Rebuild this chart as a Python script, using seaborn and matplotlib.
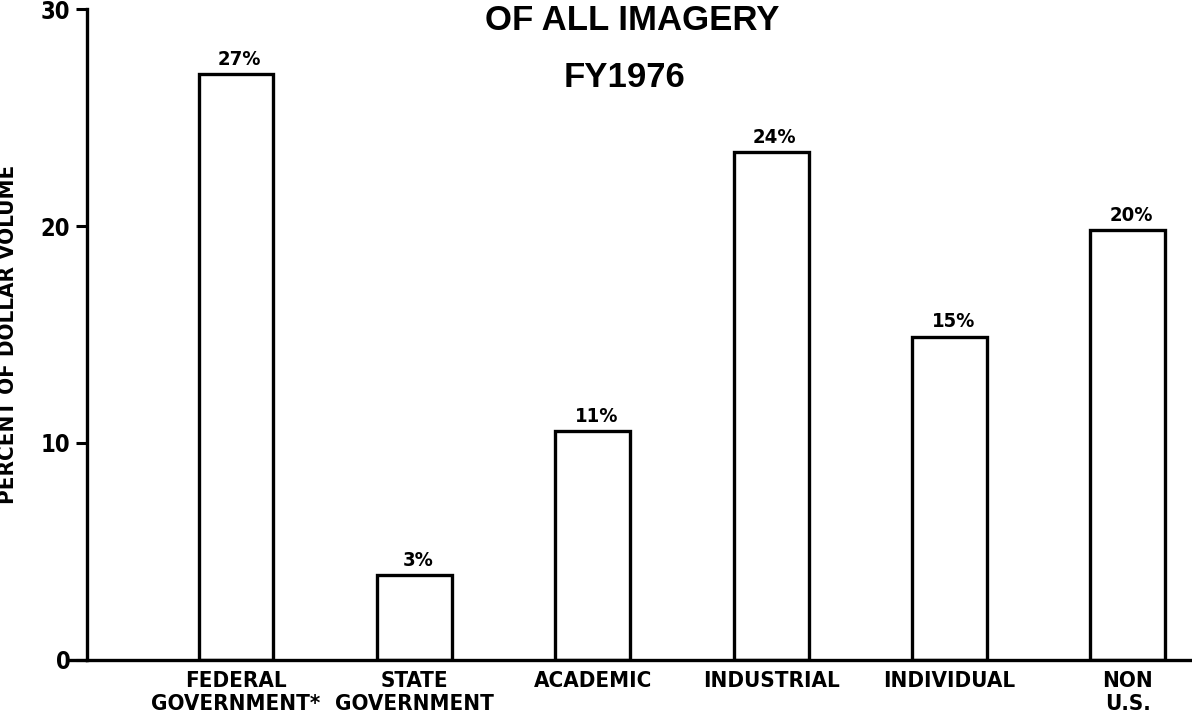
import matplotlib
matplotlib.use("Agg")
import matplotlib.pyplot as plt
from matplotlib import font_manager
import pandas as pd
import seaborn as sns

categories = ["FEDERAL\nGOVERNMENT*", "STATE\nGOVERNMENT", "ACADEMIC",
              "INDUSTRIAL", "INDIVIDUAL", "NON\nU.S."]
bar_heights = [27.0, 3.9, 10.55, 23.4, 14.9, 19.8]
bar_labels = ["27%", "3%", "11%", "24%", "15%", "20%"]
y_ticks = [0, 10, 20, 30]

sns.set_theme(style="white")

# pick a condensed face if one is around, the original lettering is narrow
narrow_names = {f.name for f in font_manager.fontManager.ttflist}
condensed = [f for f in font_manager.fontManager.ttflist
             if f.name == "DejaVu Sans" and "condensed" in str(f.stretch).lower()]
if "Liberation Sans Narrow" in narrow_names:
    narrow = {"family": ["Liberation Sans Narrow", "DejaVu Sans"]}
elif condensed:
    narrow = {"family": ["DejaVu Sans"], "stretch": "condensed"}
else:
    narrow = {"family": ["DejaVu Sans"]}

plt.rcParams["font.family"] = narrow["family"]
plt.rcParams["text.color"] = "black"
plt.rcParams["axes.labelcolor"] = "black"
plt.rcParams["xtick.color"] = "black"
plt.rcParams["ytick.color"] = "black"

df = pd.DataFrame({"category": categories, "pct": bar_heights})

fig = plt.figure(figsize=(11.92, 7.22), dpi=100)
ax = fig.add_axes([0.073, 0.0859, 0.927, 0.9016])

sns.barplot(data=df, x="category", y="pct", ax=ax, width=0.42,
            color="white", edgecolor="black", linewidth=2.4, saturation=1)

for i, (h, lab) in enumerate(zip(bar_heights, bar_labels)):
    ax.text(i + 0.02, h + 0.25, lab, ha="center", va="bottom",
            fontsize=14.5, fontweight="bold", **narrow)

ax.set_ylim(0, 30)
ax.set_xlim(-0.835, 5.359)
ax.set_yticks(y_ticks)
ax.set_yticklabels([str(t) for t in y_ticks], fontsize=17, fontweight="bold",
                   **narrow)
ax.set_xticks(range(len(categories)))
ax.set_xticklabels(categories, fontsize=16, fontweight="bold",
                   linespacing=1.2, **narrow)
ax.tick_params(axis="y", length=8, width=2.2, direction="out", pad=4, left=True)
ax.tick_params(axis="x", length=0, pad=8)
ax.set_xlabel("")
ax.set_ylabel("PERCENT OF DOLLAR VOLUME", fontsize=16, fontweight="bold",
              **narrow)
ax.yaxis.set_label_coords(-0.0624, 0.5)

for side in ["top", "right"]:
    ax.spines[side].set_visible(False)
for side in ["left", "bottom"]:
    ax.spines[side].set_linewidth(2.4)
    ax.spines[side].set_color("black")

# baseline runs a little past the y axis on the left
ax.plot([-0.95, -0.835], [0, 0], color="black", lw=2.4, clip_on=False,
        solid_capstyle="butt")

title_font = ["Liberation Sans", "DejaVu Sans"]
fig.text(0.53, 0.972, "OF ALL IMAGERY", ha="center", va="center",
         fontsize=25, fontweight="bold", family=title_font)
fig.text(0.524, 0.892, "FY1976", ha="center", va="center",
         fontsize=25, fontweight="bold", family=title_font)

fig.savefig("out.png", dpi=100, facecolor="white")
